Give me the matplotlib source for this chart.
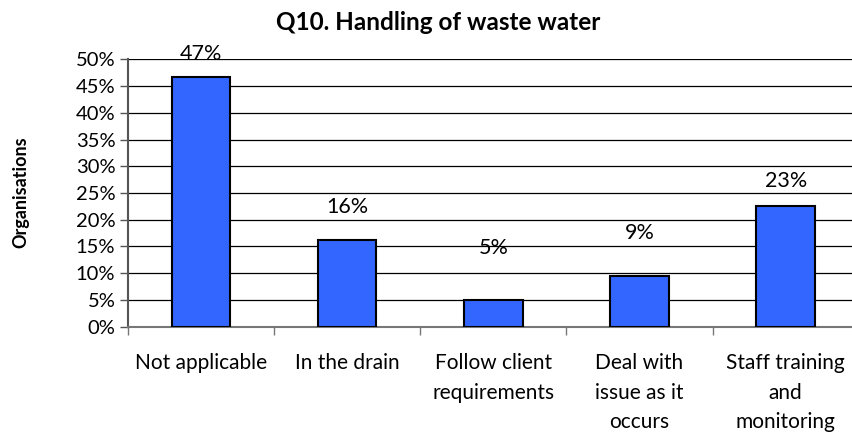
import matplotlib
matplotlib.use('Agg')
import matplotlib.pyplot as plt
import numpy as np

plt.rcParams['font.family'] = ['Lato', 'DejaVu Sans']

# data
categories = ['Not applicable', 'In the drain', 'Follow client\nrequirements',
              'Deal with\nissue as it\noccurs', 'Staff training\nand\nmonitoring']
values = [46.7, 16.2, 5.0, 9.4, 22.6]
labels = ['47%', '16%', '5%', '9%', '23%']
label_offsets = [4.3, 6.2, 9.7, 8.1, 4.6]   # Excel placed the labels oddly high

fig = plt.figure(figsize=(8.52, 4.33), dpi=100)
ax = fig.add_axes([0.150, 0.2455, 0.858, 0.6175])

x = np.arange(len(values))
ax.bar(x, values, width=0.4, color='#3366FF', edgecolor='black', linewidth=1.5, zorder=3)

for xi, v, lab, off in zip(x, values, labels, label_offsets):
    ax.text(xi, v + off, lab, ha='center', va='center', fontsize=15.5, zorder=4)

ax.set_xlim(-0.5, len(values) - 0.5)
ax.set_ylim(0, 50)
ax.set_yticks(np.arange(0, 51, 5))
ax.set_yticklabels(['%d%%' % t for t in range(0, 51, 5)], fontsize=14.5)
ax.yaxis.grid(True, color='black', linewidth=0.9, zorder=0)
ax.tick_params(axis='y', length=6, width=1, color='#555555', pad=3)

# ticks at the category borders, labels in the middle
ax.set_xticks(np.arange(-0.5, len(values), 1))
ax.set_xticklabels([])
ax.set_xticks(x, minor=True)
ax.set_xticklabels(categories, minor=True, fontsize=15, linespacing=1.6)
ax.tick_params(axis='x', which='major', length=6, width=1, color='#777777')
ax.tick_params(axis='x', which='minor', length=0, pad=19)

for s in ['top', 'right']:
    ax.spines[s].set_visible(False)
ax.spines['left'].set_color('#555555')
ax.spines['left'].set_linewidth(1.5)
ax.spines['bottom'].set_color('#777777')
ax.spines['bottom'].set_linewidth(1.5)

fig.text(0.514, 0.949, 'Q10. Handling of waste water', ha='center', va='center',
         fontsize=17.5, fontweight='bold')
fig.text(0.025, 0.557, 'Organisations', rotation=90, ha='center', va='center',
         fontsize=13, fontweight='bold')

fig.savefig('out.png', dpi=100)
